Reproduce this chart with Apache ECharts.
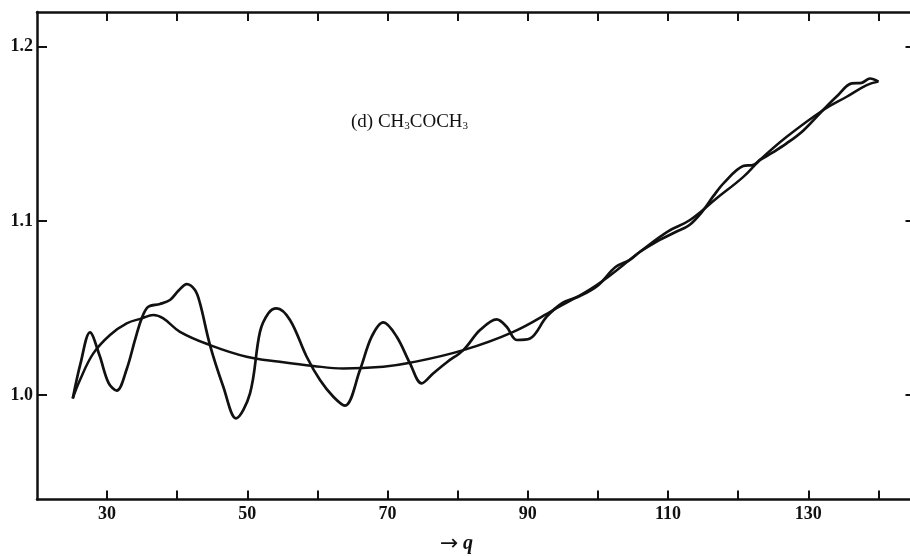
<!DOCTYPE html>
<html>
<head>
<meta charset="utf-8">
<script src="https://cdn.jsdelivr.net/npm/echarts@6/dist/echarts.min.js"></script>
<style>
  html, body { margin: 0; padding: 0; background: #fff; }
  #chart { width: 910px; height: 556px; }
</style>
</head>
<body>
<div id="chart"></div>
<script>
// Oscillating measured curve: q and intensity ratio
const measuredQ = [25.1, 26.2, 27.56, 28.9, 30.2, 31.37, 32.8, 34.0, 34.93, 35.87, 37.54, 38.97, 40.2, 41.35, 42.53, 43.25,
  44.67, 46.57, 48.38, 50.38, 51.8, 53.0, 54.18, 56.08, 58.46, 60.36, 62.26, 63.92, 66.06, 67.73, 69.39, 71.3, 73.19,
  74.86, 76.52, 78.5, 80.8, 83.18, 85.56, 86.98, 88.41, 90.31, 92.69, 95.0, 97.5, 100.0, 102.5, 104.5, 106.0, 108.5,
  111.0, 113.0, 115.0, 116.5, 118.0, 120.7, 122.2, 123.1, 125.0, 126.9, 129.3, 132.1, 134.0, 136.2, 137.6, 138.8, 140.0];
const measuredI = [0.998, 1.018, 1.036, 1.023, 1.007, 1.0025, 1.015, 1.032, 1.044, 1.0507, 1.0523, 1.0546, 1.060, 1.0637, 1.0603, 1.0526,
  1.0287, 1.0048, 0.9866, 1.001, 1.0363, 1.047, 1.0498, 1.0431, 1.022, 1.0086, 0.999, 0.9939, 1.0144, 1.0335, 1.0417, 1.0335, 1.0182,
  1.0067, 1.0125, 1.019, 1.0258, 1.0373, 1.0435, 1.0392, 1.0316, 1.0325, 1.045, 1.053, 1.057, 1.063, 1.0735, 1.0775, 1.0823, 1.0885,
  1.0935, 1.0975, 1.106, 1.1145, 1.122, 1.1315, 1.1322, 1.135, 1.1395, 1.1445, 1.152, 1.1637, 1.1713, 1.179, 1.1793, 1.1818, 1.180];

// Smooth reference curve
const smoothQ = [25.1, 26.13, 28.03, 30.41, 32.79, 34.93, 36.59, 38.01, 40.39, 44.67, 49.9, 54.65, 59.4, 63.68, 69.39, 73.19,
  80.8, 87.93, 93.63, 99.82, 106.0, 110.0, 113.13, 116.93, 120.73, 123.1, 126.92, 132.14, 135.47, 138.33, 140.0];
const smoothI = [0.998, 1.0086, 1.0239, 1.0345, 1.0412, 1.044, 1.0459, 1.044, 1.0363, 1.0287, 1.022, 1.0191, 1.0167, 1.0153, 1.0163, 1.0185,
  1.0258, 1.0363, 1.0488, 1.0632, 1.0823, 1.094, 1.1005, 1.113, 1.1253, 1.135, 1.1483, 1.1637, 1.1713, 1.178, 1.180];

const qTicks = [30, 40, 50, 60, 70, 80, 90, 100, 110, 120, 130, 140];
const qLabels = [30, 50, 70, 90, 110, 130];
const iTicks = [1.0, 1.1, 1.2];

const pair = (xs, ys) => xs.map((x, i) => [x, ys[i]]);
const FONT = '"Liberation Serif", "DejaVu Serif", serif';
const INK = '#111';

const axisLine = { show: true, lineStyle: { color: INK, width: 2.5 } };
const tickStyle = { color: INK, width: 2 };

const chart = echarts.init(document.getElementById('chart'), null, { renderer: 'canvas' });
chart.setOption({
  backgroundColor: '#fff',
  animation: false,
  grid: { left: 37, top: 12, width: 876.5, height: 487.5, containLabel: false, outerBoundsMode: 'none' },
  xAxis: [
    {
      type: 'value', position: 'bottom', min: 20, max: 145,
      axisLine,
      splitLine: { show: false },
      axisTick: { show: true, inside: true, length: 9, customValues: qTicks, lineStyle: tickStyle },
      axisLabel: { show: true, customValues: qLabels, margin: 6, color: INK,
        fontFamily: FONT, fontSize: 18, fontWeight: 'bold' }
    },
    {
      type: 'value', position: 'top', min: 20, max: 145,
      axisLine,
      splitLine: { show: false },
      axisTick: { show: true, inside: true, length: 9, customValues: qTicks, lineStyle: tickStyle },
      axisLabel: { show: false }
    }
  ],
  yAxis: [
    {
      type: 'value', position: 'left', min: 0.94, max: 1.22,
      axisLine,
      splitLine: { show: false },
      axisTick: { show: true, inside: true, length: 10, customValues: iTicks, lineStyle: tickStyle },
      axisLabel: { show: true, customValues: iTicks, margin: 4, color: INK,
        fontFamily: FONT, fontSize: 18, fontWeight: 'bold',
        formatter: v => v.toFixed(1) }
    },
    {
      type: 'value', position: 'right', min: 0.94, max: 1.22,
      axisLine,
      splitLine: { show: false },
      axisTick: { show: true, inside: true, length: 8, customValues: iTicks, lineStyle: tickStyle },
      axisLabel: { show: false }
    }
  ],
  series: [
    {
      type: 'line', name: 'measured', data: pair(measuredQ, measuredI),
      smooth: 0.35, showSymbol: false, symbol: 'none',
      lineStyle: { color: INK, width: 2.7 }
    },
    {
      type: 'line', name: 'smooth', data: pair(smoothQ, smoothI),
      smooth: 0.4, showSymbol: false, symbol: 'none',
      lineStyle: { color: INK, width: 2.5 }
    }
  ],
  graphic: [
    {
      type: 'text', left: 351, top: 113,
      style: {
        text: '(d) CH{s|3}COCH{s|3}',
        font: '19px ' + FONT, fill: INK,
        rich: { s: { fontSize: 11, fontFamily: FONT, fill: INK, padding: [7, 0, 0, 0] } }
      }
    },
    {
      type: 'text', left: 440, top: 533,
      style: {
        text: '{a|→} {q|q}',
        font: '18px ' + FONT, fill: INK,
        rich: {
          a: { fontSize: 22, fontFamily: '"DejaVu Sans", sans-serif', fill: INK },
          q: { fontSize: 20, fontStyle: 'italic', fontWeight: 'bold', fontFamily: FONT, fill: INK }
        }
      }
    }
  ]
});
</script>
</body>
</html>
